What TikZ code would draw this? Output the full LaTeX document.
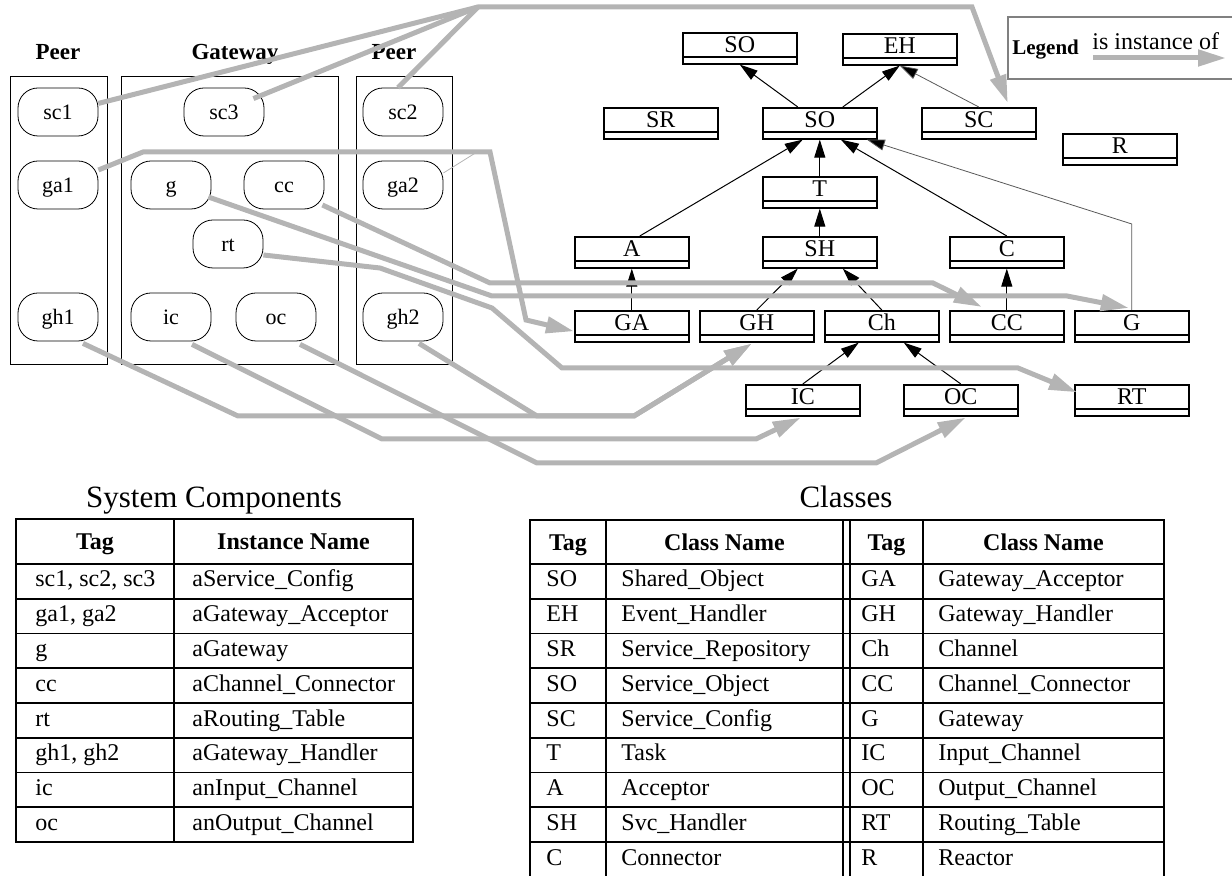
\documentclass[tikz,border=0pt]{standalone}
\usepackage{fontspec}
\setmainfont{Liberation Serif}
\usetikzlibrary{arrows.meta}
\definecolor{isagray}{RGB}{180,180,180}
\definecolor{leggray}{RGB}{128,128,128}
\newcommand{\myfs}[1]{\fontsize{#1}{#1}\selectfont}
\begin{document}
\begin{tikzpicture}[x=0.5pt,y=-0.5pt,
  cont/.style={draw, line width=0.7pt, anchor=north west, inner sep=0pt},
  ttl/.style={font=\bfseries\myfs{11.5}, anchor=base, inner sep=0pt},
  inst/.style={draw, line width=0.4pt, rounded corners=10pt, minimum width=40pt, minimum height=24pt, inner sep=0pt, text height=7.5pt, text depth=0pt, font=\myfs{11}},
  cls/.style={draw, line width=0.8pt, anchor=north west, minimum width=57pt, inner xsep=0pt, inner ysep=0pt, text height=10pt, text depth=5.5pt, font=\myfs{12},
    path picture={\draw[line width=0.8pt] ([yshift=3.5pt]path picture bounding box.south west) -- ([yshift=3.5pt]path picture bounding box.south east);}},
  inh/.style={line width=0.5pt, -{Triangle[length=9pt,width=5.5pt]}},
  inhthin/.style={draw=black!65, line width=0.4pt, -{Triangle[length=9pt,width=5.5pt,fill=black]}},
  isaline/.style={draw=isagray, line width=2.5pt},
  isa/.style={draw=isagray, line width=2.5pt, -{Triangle[length=14pt,width=8pt]}},
  tline/.style={line width=0.9pt},
  tcell/.style={font=\myfs{12}, anchor=base west, inner sep=0pt},
  thead/.style={font=\bfseries\myfs{12}, anchor=base, inner sep=0pt}
]
\useasboundingbox (0,0) rectangle (1232,876);
\clip (0,0) rectangle (1232,876);

% ---- containers ----
\node[cont, minimum width=48.5pt, minimum height=144pt] (peerL) at (10,76) {};
\node[cont, minimum width=108.5pt, minimum height=144pt] (gw) at (121,76) {};
\node[cont, minimum width=48pt, minimum height=144pt] (peerR) at (356,76) {};
\node[ttl] (tPeerL) at (58,60) {Peer};
\node[ttl] (tGw) at (235,60) {Gateway};
\node[ttl] (tPeerR) at (394,60) {Peer};

% ---- instances ----
\node[inst] (sc1) at (58,112) {sc1};
\node[inst] (ga1) at (58,185) {ga1};
\node[inst] (gh1) at (58,317) {gh1};
\node[inst] (sc3) at (224,112) {sc3};
\node[inst] (g) at (171,185) {g};
\node[inst] (cc) at (284,185) {cc};
\node[inst, minimum width=35pt] (rt) at (228,244) {rt};
\node[inst] (ic) at (171,317) {ic};
\node[inst] (oc) at (276,317) {oc};
\node[inst] (sc2) at (403,112) {sc2};
\node[inst] (ga2) at (403,185) {ga2};
\node[inst] (gh2) at (403,317) {gh2};

% ---- classes ----
\node[cls] (SOt) at (682,32) {SO};
\node[cls] (EH) at (842,33) {EH};
\node[cls] (SR) at (603,107) {SR};
\node[cls] (SOm) at (762,107) {SO};
\node[cls] (SC) at (921,107) {SC};
\node[cls] (R) at (1062,133) {R};
\node[cls] (T) at (762,176) {T};
\node[cls] (A) at (574,236) {A};
\node[cls] (SH) at (762,236) {SH};
\node[cls] (C) at (949,236) {C};
\node[cls] (GA) at (574,310) {GA};
\node[cls] (GH) at (699,310) {GH};
\node[cls] (Ch) at (824,310) {Ch};
\node[cls] (CC) at (949,310) {CC};
\node[cls] (G) at (1074,310) {G};
\node[cls] (IC) at (745,384) {IC};
\node[cls] (OC) at (903,384) {OC};
\node[cls] (RT) at (1074,384) {RT};

% ---- inheritance ----
\draw[inh] ([xshift=-11pt]SOm.north) -- (SOt.south);
\draw[inh] ([xshift=11.5pt]SOm.north) -- (EH.south);
\draw[inhthin] (SC.north) -- (EH.south);
\draw[inh] ([xshift=4pt]A.north) -- ([xshift=-8.5pt]SOm.south);
\draw[inh] (T.north) -- (SOm.south);
\draw[inh] (C.north) -- ([xshift=10.5pt]SOm.south);
\coordinate (gbend) at (1130,224);
\draw[inhthin] (G.north) -- (G.north |- gbend) -- ([xshift=23.5pt]SOm.south);
\draw[inh] (SH.north) -- (T.south);
\draw[inh] (GA.north) -- (A.south);
\draw[inh] (GH.north) -- ([xshift=-11pt]SH.south);
\draw[inh] (Ch.north) -- ([xshift=11.5pt]SH.south);
\draw[inh] (CC.north) -- (C.south);
\draw[inh] (IC.north) -- ([xshift=-11.5pt]Ch.south);
\draw[inh] (OC.north) -- ([xshift=11pt]Ch.south);

% ---- is instance of ----
\coordinate (apex) at (478,7);
\coordinate (topR) at (972,7);
\draw[isa] (sc1.12) -- (apex) -- (topR) -- ([xshift=14.5pt,yshift=2pt]SC.north);
\draw[isaline] ([xshift=-5.5pt,yshift=-5.5pt]sc3.north east) -- (apex);
\draw[isaline] ([xshift=-2.5pt]sc2.north) -- (apex);

\coordinate (gajoin) at (477,152);
\draw[isa] ([yshift=7.5pt]ga1.east) -- (143,152) -- (490,152) -- (526,320) -- ([yshift=-2.5pt]GA.west);
\draw[draw=isagray, line width=0.4pt] ([yshift=6pt]ga2.east) -- (gajoin);

\draw[isa] ([xshift=-1.5pt,yshift=-6pt]g.east) -- (492,296) -- (1067,296) -- ([xshift=-1.5pt,yshift=1pt]G.north);
\draw[isa] ([xshift=-1pt,yshift=-10pt]cc.east) -- (490,283) -- (933,283) -- ([xshift=-12.5pt,yshift=1.5pt]CC.north);
\draw[isa] ([yshift=-5.5pt]rt.east) -- (380,268) -- (492,308) -- (562,368) -- (1018,368) -- ([xshift=1.5pt,yshift=4pt]RT.west);
\draw[isa] ([xshift=12.5pt,yshift=-1pt]gh1.south) -- (238,416) -- (634,416) -- ([xshift=-2.5pt,yshift=-0.5pt]GH.south);
\draw[isa] ([xshift=8pt,yshift=-1pt]gh2.south) -- (537,416) -- (634,416) -- ([xshift=-2.5pt,yshift=-0.5pt]GH.south);
\draw[isa] ([xshift=10.5pt,yshift=-1.5pt]ic.south) -- (382,439) -- (756,439) -- ([xshift=-1pt,yshift=-0.5pt]IC.south);
\draw[isa] ([xshift=12pt,yshift=-1.5pt]oc.south) -- (537,463) -- (876,463) -- ([xshift=2.5pt,yshift=-0.5pt]OC.south);

% ---- legend ----
\draw[draw=leggray, line width=1pt] (1008,17) rectangle (1245,79);
\node[font=\bfseries\myfs{10.5}, anchor=base west, inner sep=0pt] (legend) at (1012,55) {Legend};
\node[font=\myfs{12}, anchor=base west, inner sep=0pt] (isinst) at (1092,50) {is instance of};
\coordinate (legA) at (1093,58);
\coordinate (legB) at (1226,58);
\draw[isa] (legA) -- (legB);

% ---- System Components table ----
\node[font=\myfs{15.5}, anchor=base, inner sep=0pt] (tSys) at (214,508) {System Components};
\draw[tline] (16,519) rectangle (413,842);
\draw[tline] (174,519) -- (174,842);
\foreach \i in {0,...,7} \draw[tline] (16,{564+34.75*\i}) -- (413,{564+34.75*\i});
\node[thead] (shA) at (95,550) {Tag};
\node[thead] (shB) at (293.5,550) {Instance Name};
\foreach \i/\a/\b in {0/{sc1, sc2, sc3}/aService\_Config, 1/{ga1, ga2}/aGateway\_Acceptor, 2/g/aGateway, 3/cc/aChannel\_Connector, 4/rt/aRouting\_Table, 5/{gh1, gh2}/aGateway\_Handler, 6/ic/anInput\_Channel, 7/oc/anOutput\_Channel}{
  \node[tcell] (scA\i) at (35,{587+34.75*\i}) {\a};
  \node[tcell] (scB\i) at (192,{587+34.75*\i}) {\b};
}

% ---- Classes table ----
\node[font=\myfs{15.5}, anchor=base, inner sep=0pt] (tCls) at (846,508) {Classes};
\draw[tline] (530,880) -- (530,520) -- (1164,520) -- (1164,880);
\foreach \xx in {606,843,850,923} \draw[tline] (\xx,520) -- (\xx,880);
\foreach \i in {0,...,8} \draw[tline] (530,{564+34.75*\i}) -- (1164,{564+34.75*\i});
\node[thead] (chA) at (568,551) {Tag};
\node[thead] (chB) at (724.5,551) {Class Name};
\node[thead] (chC) at (886.5,551) {Tag};
\node[thead] (chD) at (1043.5,551) {Class Name};
\foreach \i/\a/\b/\c/\d in {0/SO/Shared\_Object/GA/Gateway\_Acceptor, 1/EH/Event\_Handler/GH/Gateway\_Handler, 2/SR/Service\_Repository/Ch/Channel, 3/SO/Service\_Object/CC/Channel\_Connector, 4/SC/Service\_Config/G/Gateway, 5/T/Task/IC/Input\_Channel, 6/A/Acceptor/OC/Output\_Channel, 7/SH/Svc\_Handler/RT/Routing\_Table, 8/C/Connector/R/Reactor}{
  \node[tcell] (clA\i) at (546,{587+34.75*\i}) {\a};
  \node[tcell] (clB\i) at (621,{587+34.75*\i}) {\b};
  \node[tcell] (clC\i) at (861,{587+34.75*\i}) {\c};
  \node[tcell] (clD\i) at (938,{587+34.75*\i}) {\d};
}
\end{tikzpicture}
\end{document}
